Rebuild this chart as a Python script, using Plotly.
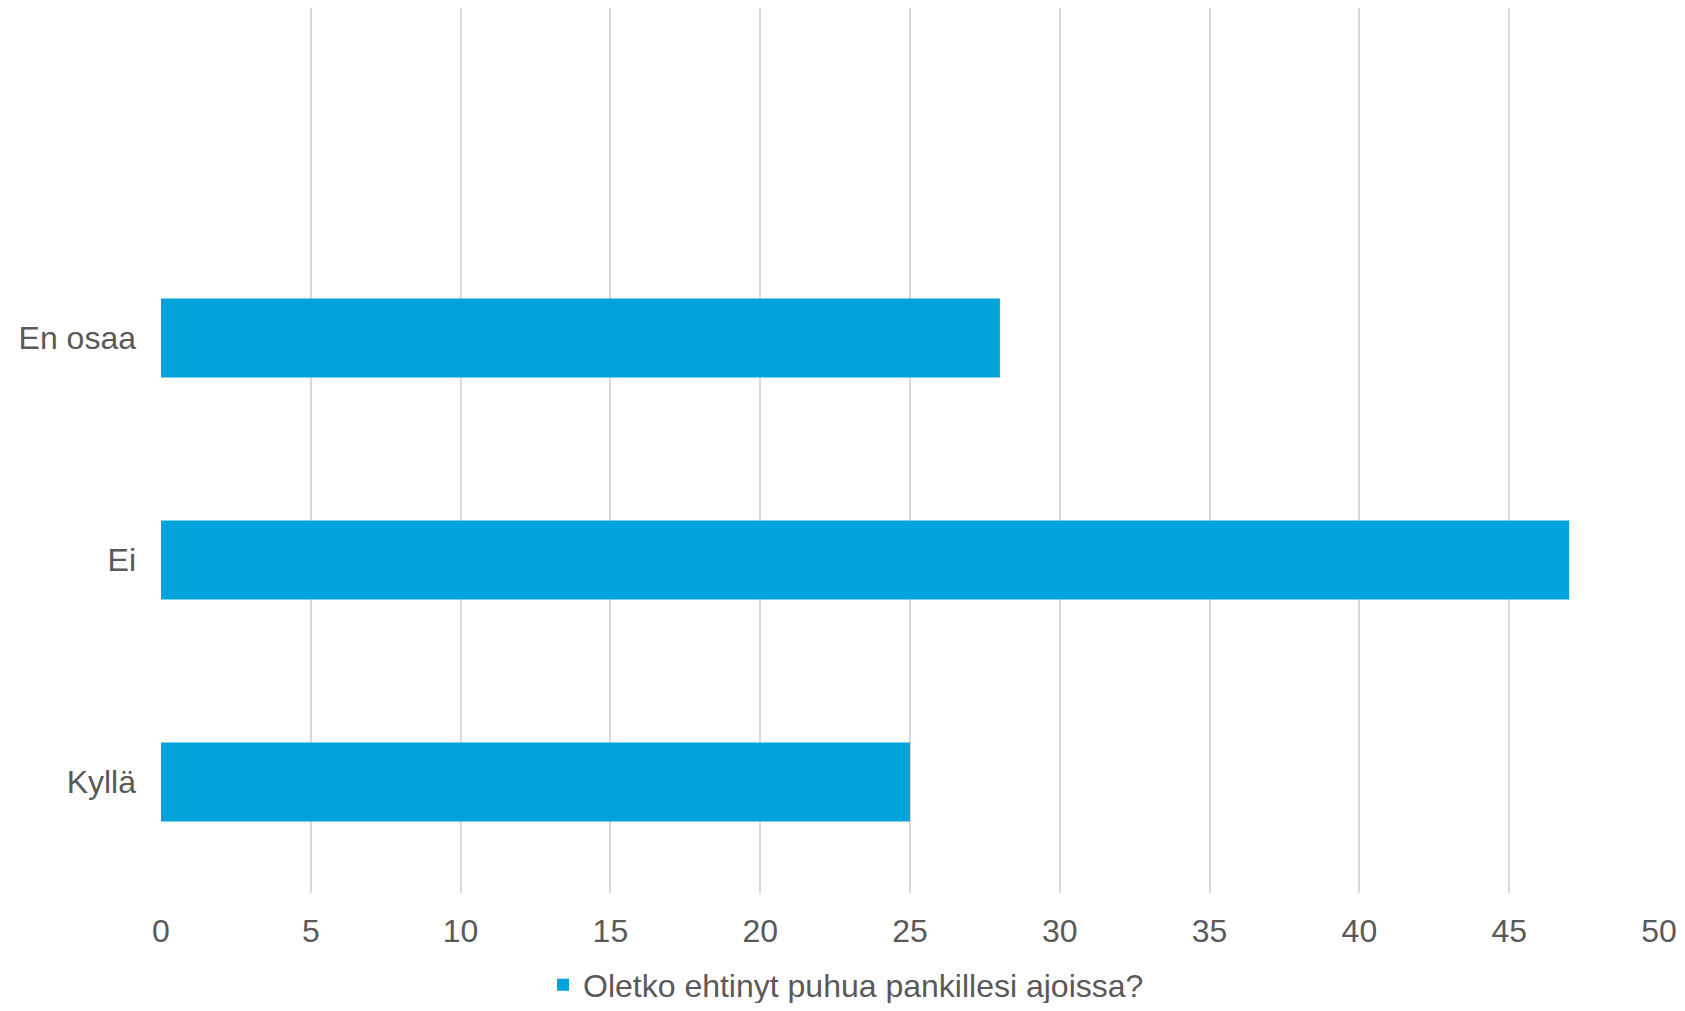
import plotly.graph_objects as go

categories = ["Kyllä", "Ei", "En osaa"]
values = [25, 47, 28]
series_name = "Oletko ehtinyt puhua pankillesi ajoissa?"
x_ticks = [0, 5, 10, 15, 20, 25, 30, 35, 40, 45, 50]

BAR = "#02A3DB"
TXT = "#595959"
GRID = "#D9D9D9"
FONT = "Liberation Sans, Arial, sans-serif"

# page has an 8px body margin; figure sized to fit the window without scrolling
W, H = 1669, 995
L, R, T, B = 153, 18, 0, 110
plot_w = W - L - R
plot_h = H - T - B
band = 222.0

fig = go.Figure()
fig.add_trace(go.Bar(
    y=categories, x=values, orientation="h", name=series_name,
    marker=dict(color=BAR, line=dict(width=0)), width=0.356,
    showlegend=True,
))

fig.update_layout(
    width=W, height=H,
    margin=dict(l=L, r=R, t=T, b=B, autoexpand=False),
    paper_bgcolor="white", plot_bgcolor="white",
    font=dict(family=FONT, size=32, color=TXT),
    showlegend=True,
    legend=dict(orientation="h", xanchor="left", yanchor="middle",
                x=(535 - L) / plot_w, y=(plot_h - 977) / plot_h,
                font=dict(size=32, color=TXT), bgcolor="rgba(0,0,0,0)",
                itemwidth=30),
    xaxis=dict(range=[0, 50], tickvals=x_ticks, showgrid=True, gridcolor=GRID,
               gridwidth=1.5, zeroline=False, showline=False, ticks="",
               tickfont=dict(size=32, color=TXT), ticklabelstandoff=16,
               fixedrange=True),
    yaxis=dict(type="category", categoryorder="array", categoryarray=categories,
               range=[-0.5, -0.5 + plot_h / band], showgrid=False, zeroline=False,
               showline=False, ticks="", tickfont=dict(size=32, color=TXT),
               ticklabelstandoff=24, fixedrange=True),
)

fig.write_html("out.html")
